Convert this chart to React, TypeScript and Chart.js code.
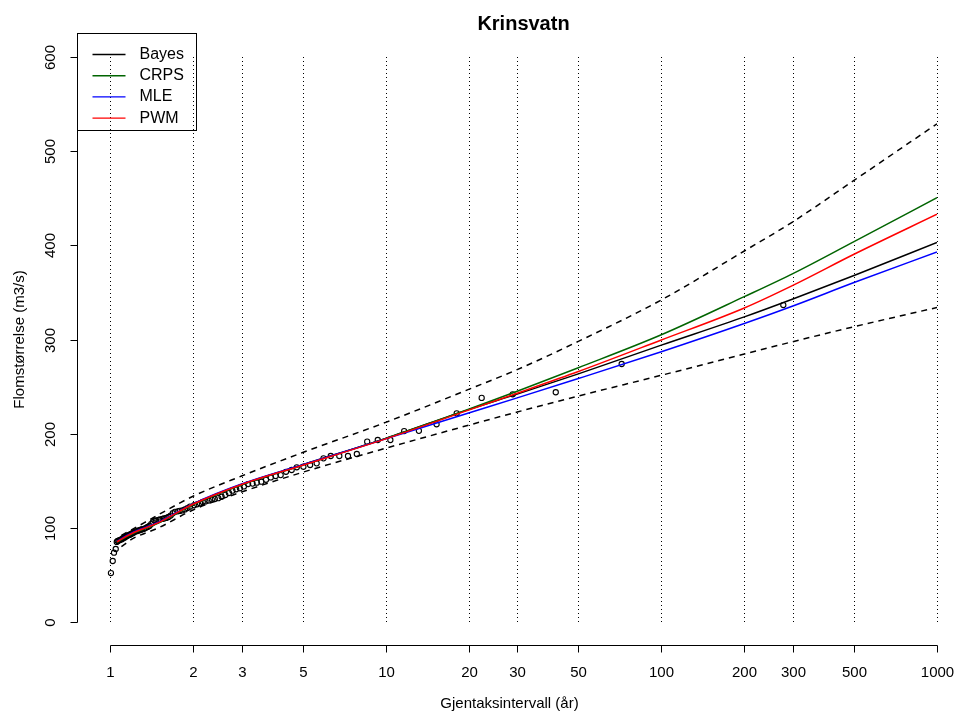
import React, { useEffect, useRef } from "react";
import { Chart, registerables } from "chart.js";

Chart.register(...registerables);

// ---- data ----
const curveT = [1.06, 1.1, 1.2, 1.5, 2, 3, 5, 10, 20, 30, 50, 100, 200, 300, 500, 1000];
const bayes = [85, 88, 94, 105.5, 125, 146, 167, 195, 225.5, 242, 263.5, 294, 324, 343, 368, 403];
const crps = [84.5, 87.5, 93.5, 105, 124.5, 145.5, 166.5, 195, 226, 245, 270, 305, 345.5, 370, 404, 450.6];
const mle = [85.5, 88.5, 94.5, 106, 125.5, 146.5, 167, 194.5, 222, 238, 258.5, 287, 317, 335.6, 360.5, 393];
const pwm = [85, 88, 94, 105.5, 125, 146, 166.5, 194.5, 225, 243, 266, 299.5, 333.5, 357.5, 390.5, 433];

const boundT = [1.1, 1.2, 1.5, 2, 3, 5, 10, 20, 30, 50, 100, 200, 300, 500, 1000];
const upper = [92, 98, 114, 133.5, 155, 180, 212, 247, 268, 298, 342, 394, 425, 469, 529];
const lower = [80, 88, 100, 119, 138, 159, 184.5, 209, 223, 240, 262, 284.6, 297.7, 313.6, 334];

const obsT = [
  1.008, 1.023, 1.034, 1.049, 1.058, 1.066, 1.075, 1.085, 1.095, 1.105,
  1.115, 1.125, 1.135, 1.145, 1.155, 1.165, 1.175, 1.185, 1.195, 1.21,
  1.22, 1.235, 1.25, 1.265, 1.28, 1.295, 1.31, 1.33, 1.35, 1.37,
  1.39, 1.41, 1.43, 1.45, 1.47, 1.5, 1.52, 1.55, 1.57, 1.6,
  1.63, 1.66, 1.69, 1.72, 1.76, 1.79, 1.83, 1.87, 1.91, 1.95,
  2.02, 2.07, 2.12, 2.17, 2.22, 2.28, 2.34, 2.4, 2.47, 2.54,
  2.62, 2.7, 2.78, 2.87, 2.96, 3.06, 3.17, 3.29, 3.41, 3.54,
  3.68, 3.83, 3.99, 4.16, 4.35, 4.56, 4.76, 5.03, 5.32, 5.62,
  5.95, 6.32, 6.79, 7.3, 7.86, 8.57, 9.36, 10.4, 11.67, 13.2,
  15.3, 18.1, 22.3, 28.9, 41.4, 71.8, 277,
];
const obsQ = [
  52, 64.8, 73.6, 77.5, 85, 86, 86.5, 87, 87.5, 88,
  89, 89.5, 90, 91, 91.5, 92, 92.5, 93, 93.5, 94.5,
  95, 96, 96.5, 97, 97.5, 98, 98.5, 99, 100, 101,
  102, 104, 106, 107.5, 108, 108.5, 109, 109.5, 110, 110.5,
  111.5, 113, 115.5, 117, 117.5, 118, 118.5, 119.5, 121, 122.5,
  124, 125, 126, 127.5, 128, 129, 130, 130.5, 131.5, 133,
  135, 137, 139.5, 141, 142, 144, 146.5, 147, 148, 149,
  151, 153.5, 155, 156, 159.5, 161.4, 164.3, 164.9, 166.7, 168.5,
  173.8, 176.3, 176.3, 176.3, 178.4, 191.5, 193.3, 193.3, 202.8, 203,
  210, 221.6, 238, 241.8, 244, 274, 336.6,
];

const xTicks = [1, 2, 3, 5, 10, 20, 30, 50, 100, 200, 300, 500, 1000];
const yTicks = [0, 100, 200, 300, 400, 500, 600];

const titleText = "Krinsvatn";
const xTitle = "Gjentaksintervall (år)";
const yTitle = "Flomstørrelse (m3/s)";
const legendItems = [
  { label: "Bayes", color: "#000000" },
  { label: "CRPS", color: "#006400" },
  { label: "MLE", color: "#0000FF" },
  { label: "PWM", color: "#FF0000" },
];

const FONT = '"Liberation Sans", Arial, Helvetica, sans-serif';

const toXY = (xs: number[], ys: number[]) => xs.map((x, i) => ({ x, y: ys[i] }));

const rStylePlugin = {
  id: "rStyle",
  beforeDatasetsDraw(chart: any) {
    const { ctx, scales } = chart;
    const xs = scales.x;
    const ys = scales.y;
    ctx.save();
    ctx.strokeStyle = "#000";
    ctx.lineWidth = 1;
    ctx.setLineDash([1, 3]);
    for (const t of xTicks) {
      const px = Math.round(xs.getPixelForValue(t)) + 0.5;
      ctx.beginPath();
      ctx.moveTo(px, ys.getPixelForValue(yTicks[0]));
      ctx.lineTo(px, ys.getPixelForValue(yTicks[yTicks.length - 1]));
      ctx.stroke();
    }
    ctx.restore();
  },
  afterDraw(chart: any) {
    const { ctx, scales, chartArea } = chart;
    const xs = scales.x;
    const ys = scales.y;
    const axisXpos = Math.round(chartArea.left - 33) + 0.5;
    const axisYpos = Math.round(chartArea.bottom + 23) + 0.5;
    ctx.save();
    ctx.strokeStyle = "#000";
    ctx.fillStyle = "#000";
    ctx.lineWidth = 1;
    ctx.setLineDash([]);

    // x axis
    const x0 = Math.round(xs.getPixelForValue(xTicks[0])) + 0.5;
    const x1 = Math.round(xs.getPixelForValue(xTicks[xTicks.length - 1])) + 0.5;
    ctx.beginPath();
    ctx.moveTo(x0, axisYpos);
    ctx.lineTo(x1, axisYpos);
    ctx.stroke();
    ctx.font = `15px ${FONT}`;
    ctx.textAlign = "center";
    ctx.textBaseline = "middle";
    for (const t of xTicks) {
      const px = Math.round(xs.getPixelForValue(t)) + 0.5;
      ctx.beginPath();
      ctx.moveTo(px, axisYpos);
      ctx.lineTo(px, axisYpos + 7);
      ctx.stroke();
      ctx.fillText(String(t), px, axisYpos + 27);
    }

    // y axis
    const y0 = Math.round(ys.getPixelForValue(yTicks[0])) + 0.5;
    const y1 = Math.round(ys.getPixelForValue(yTicks[yTicks.length - 1])) + 0.5;
    ctx.beginPath();
    ctx.moveTo(axisXpos, y0);
    ctx.lineTo(axisXpos, y1);
    ctx.stroke();
    for (const v of yTicks) {
      const py = Math.round(ys.getPixelForValue(v)) + 0.5;
      ctx.beginPath();
      ctx.moveTo(axisXpos, py);
      ctx.lineTo(axisXpos - 7, py);
      ctx.stroke();
      ctx.save();
      ctx.translate(axisXpos - 27, py);
      ctx.rotate(-Math.PI / 2);
      ctx.fillText(String(v), 0, 0);
      ctx.restore();
    }

    // titles
    const centerX = (chartArea.left - 33 + chartArea.right + 33) / 2;
    ctx.fillText(xTitle, centerX - 14, axisYpos + 58);
    ctx.save();
    ctx.translate(20, (chartArea.top + chartArea.bottom) / 2);
    ctx.rotate(-Math.PI / 2);
    ctx.fillText(yTitle, 0, 0);
    ctx.restore();

    ctx.font = `bold 20px ${FONT}`;
    ctx.fillText(titleText, centerX, 24);

    // legend
    const bx = axisXpos;
    const by = 33.5;
    const bw = 119;
    const bh = 97;
    ctx.strokeRect(bx, by, bw, bh);
    ctx.font = `16px ${FONT}`;
    ctx.textAlign = "left";
    legendItems.forEach((it, i) => {
      const ly = by + 21 + i * 21.2;
      ctx.strokeStyle = it.color;
      ctx.lineWidth = 1.4;
      ctx.beginPath();
      ctx.moveTo(bx + 15, ly);
      ctx.lineTo(bx + 48, ly);
      ctx.stroke();
      ctx.fillStyle = "#000";
      ctx.fillText(it.label, bx + 62, ly);
    });
    ctx.restore();
  },
};

export default function App() {
  const ref = useRef<HTMLCanvasElement | null>(null);
  useEffect(() => {
    if (!ref.current) return;
    const lineDs = (label: string, data: number[], color: string, order: number) => ({
      label,
      data: toXY(curveT, data),
      borderColor: color,
      backgroundColor: color,
      borderWidth: 1.5,
      pointRadius: 0,
      showLine: true,
      cubicInterpolationMode: "monotone" as const,
      fill: false,
      order,
    });
    const boundDs = (label: string, data: number[]) => ({
      label,
      data: toXY(boundT, data),
      borderColor: "#000",
      borderWidth: 1.5,
      borderDash: [6, 5],
      pointRadius: 0,
      showLine: true,
      cubicInterpolationMode: "monotone" as const,
      fill: false,
      order: 5,
    });
    const chart = new Chart(ref.current, {
      type: "scatter",
      data: {
        datasets: [
          {
            label: "obs",
            data: toXY(obsT, obsQ),
            showLine: false,
            pointRadius: 2.6,
            pointBorderWidth: 1.1,
            pointBorderColor: "#000",
            pointBackgroundColor: "rgba(0,0,0,0)",
            pointStyle: "circle",
            order: 6,
            clip: false,
          } as any,
          boundDs("upper", upper),
          boundDs("lower", lower),
          lineDs("Bayes", bayes, "#000000", 4),
          lineDs("CRPS", crps, "#006400", 3),
          lineDs("MLE", mle, "#0000FF", 2),
          lineDs("PWM", pwm, "#FF0000", 1),
        ],
      },
      options: {
        animation: false,
        responsive: false,
        devicePixelRatio: 1,
        layout: { padding: { left: 110, right: 23, top: 57, bottom: 93 } },
        plugins: { legend: { display: false }, title: { display: false }, tooltip: { enabled: false } },
        scales: {
          x: { type: "logarithmic", min: 1, max: 1000, display: false },
          y: { type: "linear", min: 0, max: 600, display: false },
        },
        events: [],
      },
      plugins: [rStylePlugin],
    });
    return () => chart.destroy();
  }, []);
  return (
    <div style={{ position: "absolute", left: 0, top: 0, width: 960, height: 715, background: "#fff" }}>
      <canvas ref={ref} width={960} height={715} style={{ width: 960, height: 715 }} />
    </div>
  );
}
